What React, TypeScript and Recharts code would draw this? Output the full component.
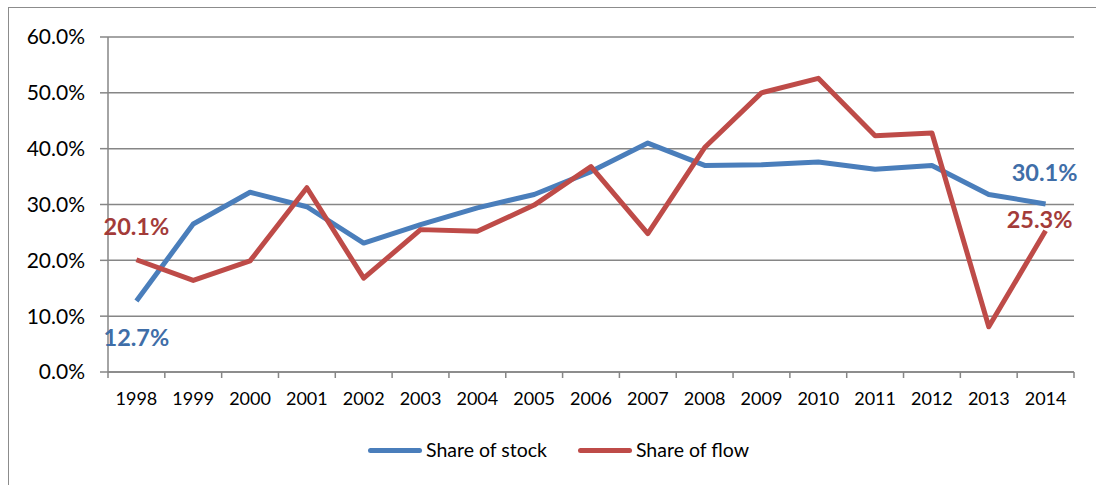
import { LineChart, Line, XAxis, YAxis, CartesianGrid, Legend, LabelList } from "recharts";

const years = ["1998", "1999", "2000", "2001", "2002", "2003", "2004", "2005", "2006", "2007", "2008", "2009", "2010", "2011", "2012", "2013", "2014"];
const shareOfStock = [12.7, 26.5, 32.2, 29.6, 23.1, 26.4, 29.4, 31.8, 35.9, 41.0, 37.0, 37.1, 37.6, 36.3, 37.0, 31.8, 30.1];
const shareOfFlow = [20.1, 16.4, 19.9, 33.0, 16.8, 25.5, 25.2, 29.9, 36.8, 24.8, 40.2, 50.0, 52.6, 42.3, 42.8, 8.1, 25.3];
const yTicks = [0, 10, 20, 30, 40, 50, 60];

const BLUE = "#4a7ebb";
const RED = "#be4b48";
const BLUE_LABEL = "#3f6ea8";
const RED_LABEL = "#a33b39";
const GRID = "#868686";
const FONT = "Lato, 'Noto Sans', sans-serif";

const chartData = years.map((year, i) => ({
  i,
  year,
  stock: shareOfStock[i],
  flow: shareOfFlow[i],
}));

// tick positions: category centres get labels, category edges get tick marks
const xTicks: number[] = [];
for (let k = -0.5; k <= years.length - 0.5; k += 0.5) xTicks.push(k);

const YearTick = (props: any) => {
  const { x, y, payload } = props;
  const v = payload.value;
  if (Number.isInteger(v)) {
    return (
      <text x={x} y={y + 33} textAnchor="middle" fontSize={18} fontFamily={FONT} fill="#000">
        {years[v]}
      </text>
    );
  }
  return <line x1={x} y1={y} x2={x} y2={y + 6} stroke={GRID} strokeWidth={1.5} />;
};

// end labels only (first and last point)
const endLabel = (color: string, offsets: Record<number, [number, number]>) => (props: any) => {
  const { x, y, index, value } = props;
  const off = offsets[index];
  if (!off) return null;
  return (
    <text
      x={x + off[0]}
      y={y + off[1]}
      textAnchor="middle"
      dominantBaseline="central"
      fontSize={23.5}
      fontWeight="bold"
      fontFamily={FONT}
      fill={color}
    >
      {`${Number(value).toFixed(1)}%`}
    </text>
  );
};

const LegendContent = () => (
  <div
    style={{
      height: 62,
      boxSizing: "border-box",
      paddingTop: 28,
      paddingLeft: 359,
      display: "flex",
      alignItems: "flex-start",
      fontFamily: FONT,
      fontSize: 19.5,
      color: "#000",
    }}
  >
    {[
      { name: "Share of stock", color: BLUE },
      { name: "Share of flow", color: RED },
    ].map((item, i) => (
      <div key={item.name} style={{ display: "flex", alignItems: "center", height: 20, marginLeft: i ? 31 : 0 }}>
        <div style={{ width: 54, height: 5, borderRadius: 3, background: item.color, marginRight: 4 }} />
        <span style={{ lineHeight: "20px" }}>{item.name}</span>
      </div>
    ))}
  </div>
);

export default function App() {
  return (
    <div
      style={{
        position: "absolute",
        left: 8,
        top: 7,
        width: 1088,
        height: 477,
        borderLeft: "1px solid #8c8c8c",
        borderTop: "1px solid #8c8c8c",
        overflow: "hidden",
        background: "#fff",
      }}
    >
      <LineChart width={1087} height={470} data={chartData} margin={{ top: 29, right: 22, left: 0, bottom: 4 }}>
        <CartesianGrid horizontal vertical={false} stroke={GRID} strokeWidth={1.5} />
        <XAxis
          dataKey="i"
          type="number"
          domain={[-0.5, years.length - 0.5]}
          ticks={xTicks}
          interval={0}
          height={40}
          tickLine={false}
          tickSize={0}
          tickMargin={0}
          axisLine={{ stroke: GRID, strokeWidth: 1.5 }}
          tick={<YearTick />}
        />
        <YAxis
          domain={[0, 60]}
          ticks={yTicks}
          width={99}
          tickSize={8}
          tickMargin={15}
          tickLine={{ stroke: GRID, strokeWidth: 1.5 }}
          axisLine={{ stroke: GRID, strokeWidth: 1.5 }}
          tick={{ fill: "#000", fontSize: 21, fontFamily: FONT }}
          tickFormatter={(v) => `${Number(v).toFixed(1)}%`}
        />
        <Legend verticalAlign="bottom" height={62} wrapperStyle={{ left: 0, width: 1087 }} content={<LegendContent />} />
        <Line
          type="linear"
          dataKey="stock"
          name="Share of stock"
          stroke={BLUE}
          strokeWidth={5}
          strokeLinejoin="round"
          dot={false}
          isAnimationActive={false}
        >
          <LabelList dataKey="stock" content={endLabel(BLUE_LABEL, { 0: [0, 36], 16: [-1, -32] })} />
        </Line>
        <Line
          type="linear"
          dataKey="flow"
          name="Share of flow"
          stroke={RED}
          strokeWidth={5}
          strokeLinejoin="round"
          dot={false}
          isAnimationActive={false}
        >
          <LabelList dataKey="flow" content={endLabel(RED_LABEL, { 0: [0, -34], 16: [-6, -12] })} />
        </Line>
      </LineChart>
    </div>
  );
}
